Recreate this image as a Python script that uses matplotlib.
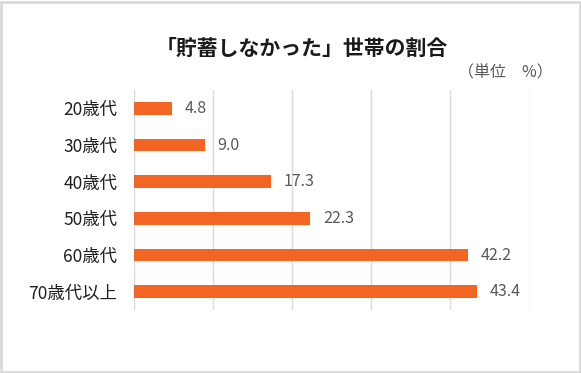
import matplotlib
matplotlib.use("Agg")
import matplotlib.pyplot as plt
from matplotlib.patches import Rectangle

plt.rcParams['font.family'] = ['Noto Sans CJK JP', 'DejaVu Sans']

categories = ["20歳代", "30歳代", "40歳代", "50歳代", "60歳代", "70歳代以上"]
values = [4.8, 9.0, 17.3, 22.3, 42.2, 43.4]
title = "「貯蓄しなかった」世帯の割合"
unit_label = "（単位　%）"

W, H = 581, 373
fig = plt.figure(figsize=(W / 100, H / 100), dpi=100)
fig.patch.set_facecolor("white")

# outer border
fig.add_artist(Rectangle((1 / W, 1 / H), 1 - 2.5 / W, 1 - 2.5 / H, transform=fig.transFigure,
                         fill=False, edgecolor="#D9D9D9", linewidth=2.0))

ax = fig.add_axes([134 / W, 1 - 310 / H, (529.6 - 134) / W, 220 / H])
y = list(range(len(categories)))
ax.barh(y, values, height=0.34, color="#F36523", zorder=3)
ax.set_xlim(0, 50)
ax.set_ylim(len(categories) - 0.5, -0.5)
ax.set_xticks([0, 10, 20, 30, 40, 50])
ax.set_xticklabels([])
ax.tick_params(axis="x", length=0)
ax.tick_params(axis="y", length=0, pad=12, labelsize=12.5, labelcolor="#1f1f1f")
ax.set_yticks(y)
ax.set_yticklabels(categories)
ax.grid(axis="x", color="#D9D9D9", linewidth=1.0, zorder=0)
for s in ax.spines.values():
    s.set_visible(False)

for yi, v in zip(y, values):
    ax.annotate(f"{v:.1f}", (v, yi), xytext=(9, 0), textcoords="offset points",
                va="center", ha="left", fontsize=11.5, color="#595959")

fig.text(302 / W, 1 - 48 / H, title, ha="center", va="center", fontsize=15,
         fontweight="bold", color="#1a1a1a")
fig.text(553 / W, 1 - 73 / H, unit_label, ha="right", va="center", fontsize=11.5,
         color="#595959")

fig.savefig("out.png", dpi=100, facecolor="white")
